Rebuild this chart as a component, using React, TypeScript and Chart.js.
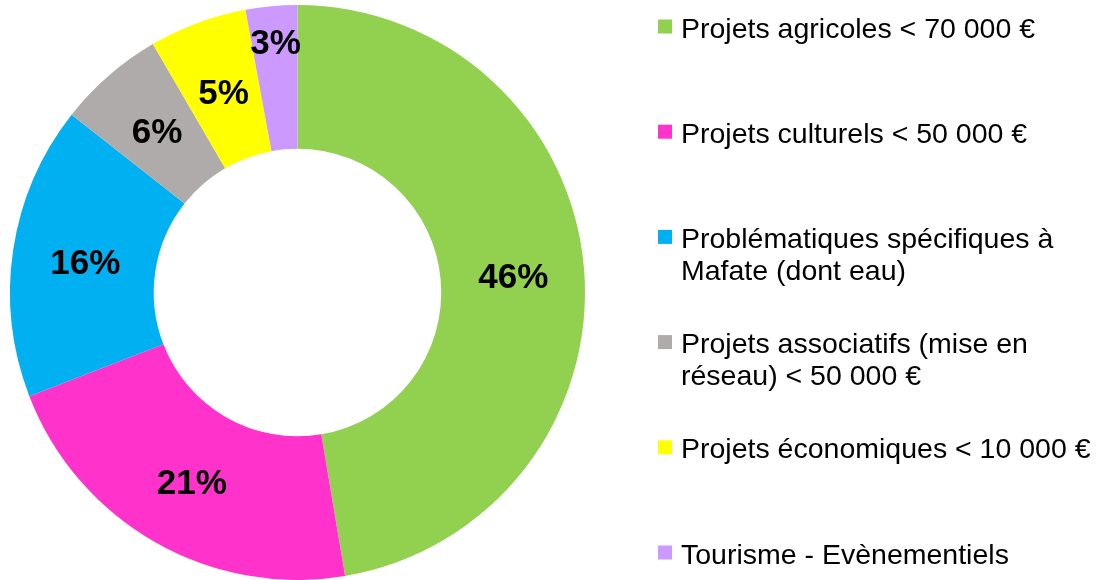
import React, { useEffect, useRef } from "react";
import { Chart, registerables } from "chart.js";

Chart.register(...registerables);

const categories = [
  "Projets agricoles < 70 000 €",
  "Projets culturels < 50 000 €",
  "Problématiques spécifiques à Mafate (dont eau)",
  "Projets associatifs (mise en réseau) < 50 000 €",
  "Projets économiques < 10 000 €",
  "Tourisme - Evènementiels",
];
const shares = [47.4, 21.8, 16.5, 6.0, 5.5, 2.9];
const pctLabels = ["46%", "21%", "16%", "6%", "5%", "3%"];
const colors = ["#92D050", "#FF33CC", "#00B0F0", "#AEABAA", "#FFFF00", "#CC99FF"];

const FONT = "'Liberation Sans', Arial, Helvetica, sans-serif";

const sliceLabels = {
  id: "sliceLabels",
  afterDatasetsDraw(chart: any) {
    const ctx = chart.ctx;
    const meta = chart.getDatasetMeta(0);
    ctx.save();
    ctx.font = `bold 35px ${FONT}`;
    ctx.fillStyle = "#000";
    ctx.textAlign = "center";
    ctx.textBaseline = "middle";
    meta.data.forEach((arc: any, i: number) => {
      const p = arc.getProps(["x", "y", "startAngle", "endAngle", "innerRadius", "outerRadius"], true);
      const mid = (p.startAngle + p.endAngle) / 2;
      const span = p.endAngle - p.startAngle;
      const frac = span < 0.3 ? 0.76 : 0.5;
      const r = p.innerRadius + (p.outerRadius - p.innerRadius) * frac;
      ctx.fillText(pctLabels[i], p.x + Math.cos(mid) * r + 1, p.y + Math.sin(mid) * r + 4);
    });
    ctx.restore();
  },
};

function wrap(ctx: CanvasRenderingContext2D, text: string, maxW: number): string[] {
  const words = text.split(" ");
  const lines: string[] = [];
  let cur = "";
  for (const w of words) {
    const test = cur ? cur + " " + w : w;
    if (ctx.measureText(test).width > maxW && cur) {
      lines.push(cur);
      cur = w;
    } else cur = test;
  }
  if (cur) lines.push(cur);
  return lines;
}

const sideLegend = {
  id: "sideLegend",
  afterDraw(chart: any) {
    const ctx = chart.ctx;
    const labels = chart.data.labels as string[];
    const bg = chart.data.datasets[0].backgroundColor as string[];
    ctx.save();
    ctx.font = `28.5px ${FONT}`;
    ctx.textAlign = "left";
    ctx.textBaseline = "alphabetic";
    ctx.fillStyle = "#000";
    const x0 = 658;
    const tx = 681;
    const base0 = 37.5;
    const step = 105.2;
    const lineH = 32;
    labels.forEach((lab, i) => {
      const by = base0 + step * i;
      ctx.fillStyle = bg[i];
      ctx.fillRect(x0, by - 18, 14, 14);
      ctx.fillStyle = "#000";
      const lines = wrap(ctx, lab, 420);
      lines.forEach((ln, j) => ctx.fillText(ln, tx, by + j * lineH));
    });
    ctx.restore();
  },
};

export default function App() {
  const ref = useRef<HTMLCanvasElement>(null);
  useEffect(() => {
    if (!ref.current) return;
    const chart = new Chart(ref.current, {
      type: "doughnut",
      data: {
        labels: categories,
        datasets: [
          {
            data: shares,
            backgroundColor: colors,
            borderWidth: 0,
          },
        ],
      },
      options: {
        responsive: false,
        animation: false,
        cutout: "50%",
        layout: { padding: { left: 10, top: 5, right: 524, bottom: 0 } },
        plugins: {
          legend: { display: false },
          tooltip: { enabled: false },
          title: { display: false },
        },
      },
      plugins: [sliceLabels, sideLegend],
    });
    return () => chart.destroy();
  }, []);
  return (
    <div style={{ position: "fixed", left: 0, top: 0, width: 1109, height: 580, background: "#fff" }}>
      <canvas ref={ref} width={1109} height={580} style={{ width: 1109, height: 580 }} />
    </div>
  );
}
